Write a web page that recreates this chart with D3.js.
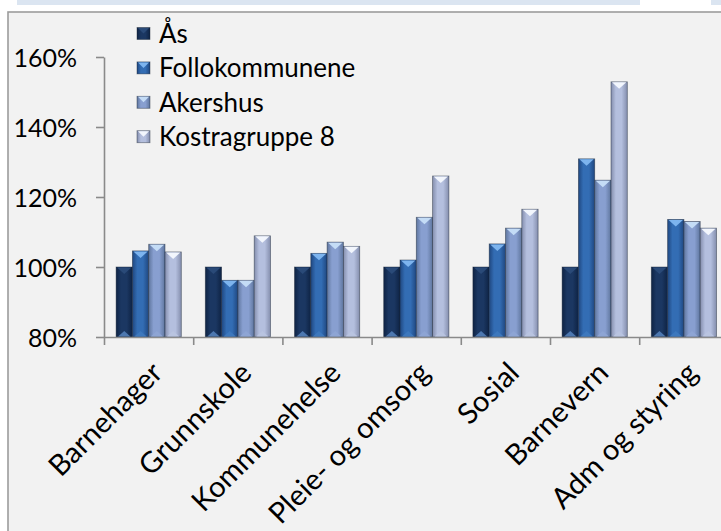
<!DOCTYPE html>
<meta charset="utf-8">
<html lang="no">
<style>
body { margin: 0; background: #fff; }
text { font-family: Lato, "Open Sans", sans-serif; fill: #000; }
.axis path, .axis line { stroke: #8a8a8a; stroke-width: 1.6px; }
</style>
<body>
<script src="https://d3js.org/d3.v7.min.js"></script>
<script>

// data (percent of Ås)
var categories = ["Barnehager", "Grunnskole", "Kommunehelse", "Pleie- og omsorg", "Sosial", "Barnevern", "Adm og styring"];
var seriesNames = ["Ås", "Follokommunene", "Akershus", "Kostragruppe 8"];
var aas = [100, 100, 100, 100, 100, 100, 100];
var follo = [104.6, 96.2, 103.9, 102.0, 106.6, 130.9, 113.6];
var akershus = [106.5, 96.2, 107.1, 114.2, 111.1, 124.8, 113.0];
var kostra = [104.3, 108.9, 105.9, 126.0, 116.5, 152.9, 111.1];
var yTicks = [80, 100, 120, 140, 160];

var values = [aas, follo, akershus, kostra];

// colours per series: edge, centre, top bevel, bottom bevel
var colours = [
  {edge: "#0e2344", mid: "#1b3762", top: "#2a4a78", bot: "#4d78b0"},
  {edge: "#1f4780", mid: "#336db4", top: "#7db4ee", bot: "#3d78bd"},
  {edge: "#5f769e", mid: "#889fd0", top: "#c4dcf6", bot: "#8ea5d4"},
  {edge: "#848ead", mid: "#b4bfde", top: "#f2f6fd", bot: "#b9c4e0"}
];

var width = 721, height = 531;

var svg = d3.select("body").append("svg")
    .attr("width", width)
    .attr("height", height);

// top band of the page
svg.append("rect").attr("x", 17).attr("y", 0).attr("width", 623).attr("height", 5).attr("fill", "#dbe5f1");
svg.append("rect").attr("x", 711).attr("y", 0).attr("width", 10).attr("height", 5).attr("fill", "#dbe5f1");

// chart area
svg.append("rect")
    .attr("x", 8).attr("y", 12)
    .attr("width", 800).attr("height", 600)
    .attr("fill", "#f2f2f2")
    .attr("stroke", "#9c9c9c")
    .attr("stroke-width", 1.6);

var defs = svg.append("defs");
colours.forEach(function(c, i) {
  var g = defs.append("linearGradient").attr("id", "grad" + i)
      .attr("x1", "0%").attr("x2", "100%").attr("y1", "0%").attr("y2", "0%");
  g.append("stop").attr("offset", "0%").attr("stop-color", c.edge);
  g.append("stop").attr("offset", "30%").attr("stop-color", c.mid);
  g.append("stop").attr("offset", "65%").attr("stop-color", c.mid);
  g.append("stop").attr("offset", "100%").attr("stop-color", c.edge);
});

// scales
var x0 = d3.scaleBand().domain(categories).range([104, 728.4]);
var x1 = d3.scaleBand().domain(seriesNames).range([12.1, 77.3]);
var xEdge = d3.scaleLinear().domain([0, categories.length]).range([104, 728.4]);
var y = d3.scaleLinear().domain([80, 160]).range([337, 57]);

// bars
var groups = svg.selectAll(".cat")
    .data(categories)
  .enter().append("g")
    .attr("class", "cat")
    .attr("transform", function(d) { return "translate(" + x0(d) + ",0)"; });

groups.each(function(cat, ci) {
  var g = d3.select(this);
  seriesNames.forEach(function(s, si) {
    var v = values[si][ci];
    var bx = x1(s), bw = x1.bandwidth(), top = y(v), bottom = y(80);
    var c = colours[si];
    g.append("rect")
        .attr("x", bx).attr("y", top)
        .attr("width", bw).attr("height", bottom - top)
        .attr("fill", "url(#grad" + si + ")")
        .attr("stroke", "#1a2636")
        .attr("stroke-opacity", 0.55)
        .attr("stroke-width", 0.8);
    // top bevel
    g.append("path")
        .attr("d", "M" + (bx + 1) + "," + (top + 0.5) + "L" + (bx + bw - 1) + "," + (top + 0.5) +
                   "L" + (bx + bw / 2) + "," + (top + 7) + "Z")
        .attr("fill", c.top);
    // bottom bevel
    g.append("path")
        .attr("d", "M" + (bx + 2) + "," + (bottom - 0.5) + "L" + (bx + bw - 2) + "," + (bottom - 0.5) +
                   "L" + (bx + bw / 2) + "," + (bottom - 6) + "Z")
        .attr("fill", c.bot);
  });
});

// Y axis
svg.append("g")
    .attr("class", "axis")
    .attr("transform", "translate(104,0)")
    .call(d3.axisLeft(y).tickValues(yTicks).tickSize(8).tickSizeOuter(0).tickPadding(19)
      .tickFormat(function(d) { return d + "%"; }))
    .call(function(g) {
      g.selectAll("text").style("font-size", "25px").attr("dy", "0.36em");
    });

// X axis (ticks between categories)
svg.append("g")
    .attr("class", "axis")
    .attr("transform", "translate(0,337)")
    .call(d3.axisBottom(xEdge).tickValues(d3.range(0, categories.length + 1)).tickSize(8)
      .tickSizeOuter(0).tickFormat(""));

// category labels
svg.selectAll(".catlabel")
    .data(categories)
  .enter().append("text")
    .attr("class", "catlabel")
    .attr("transform", function(d) {
      return "translate(" + (x0(d) + x0.bandwidth() / 2 + 9) + ",368) rotate(-45)";
    })
    .attr("text-anchor", "end")
    .attr("dy", "0.32em")
    .style("font-size", "29px")
    .text(function(d) { return d; });

// legend
var legend = svg.selectAll(".legend")
    .data(seriesNames)
  .enter().append("g")
    .attr("class", "legend")
    .attr("transform", function(d, i) { return "translate(137," + (33.5 + i * 34.4) + ")"; });

legend.append("rect")
    .attr("x", 0).attr("y", -6)
    .attr("width", 13).attr("height", 12)
    .attr("fill", function(d, i) { return "url(#grad" + i + ")"; })
    .attr("stroke", "#1a2636").attr("stroke-opacity", 0.5).attr("stroke-width", 0.8);

legend.append("path")
    .attr("d", "M1,-5.5L12,-5.5L6.5,0Z")
    .attr("fill", function(d, i) { return colours[i].top; });

legend.append("text")
    .attr("x", 22)
    .attr("dy", "0.36em")
    .style("font-size", "26px")
    .text(function(d) { return d; });

</script>
</body>
</html>
